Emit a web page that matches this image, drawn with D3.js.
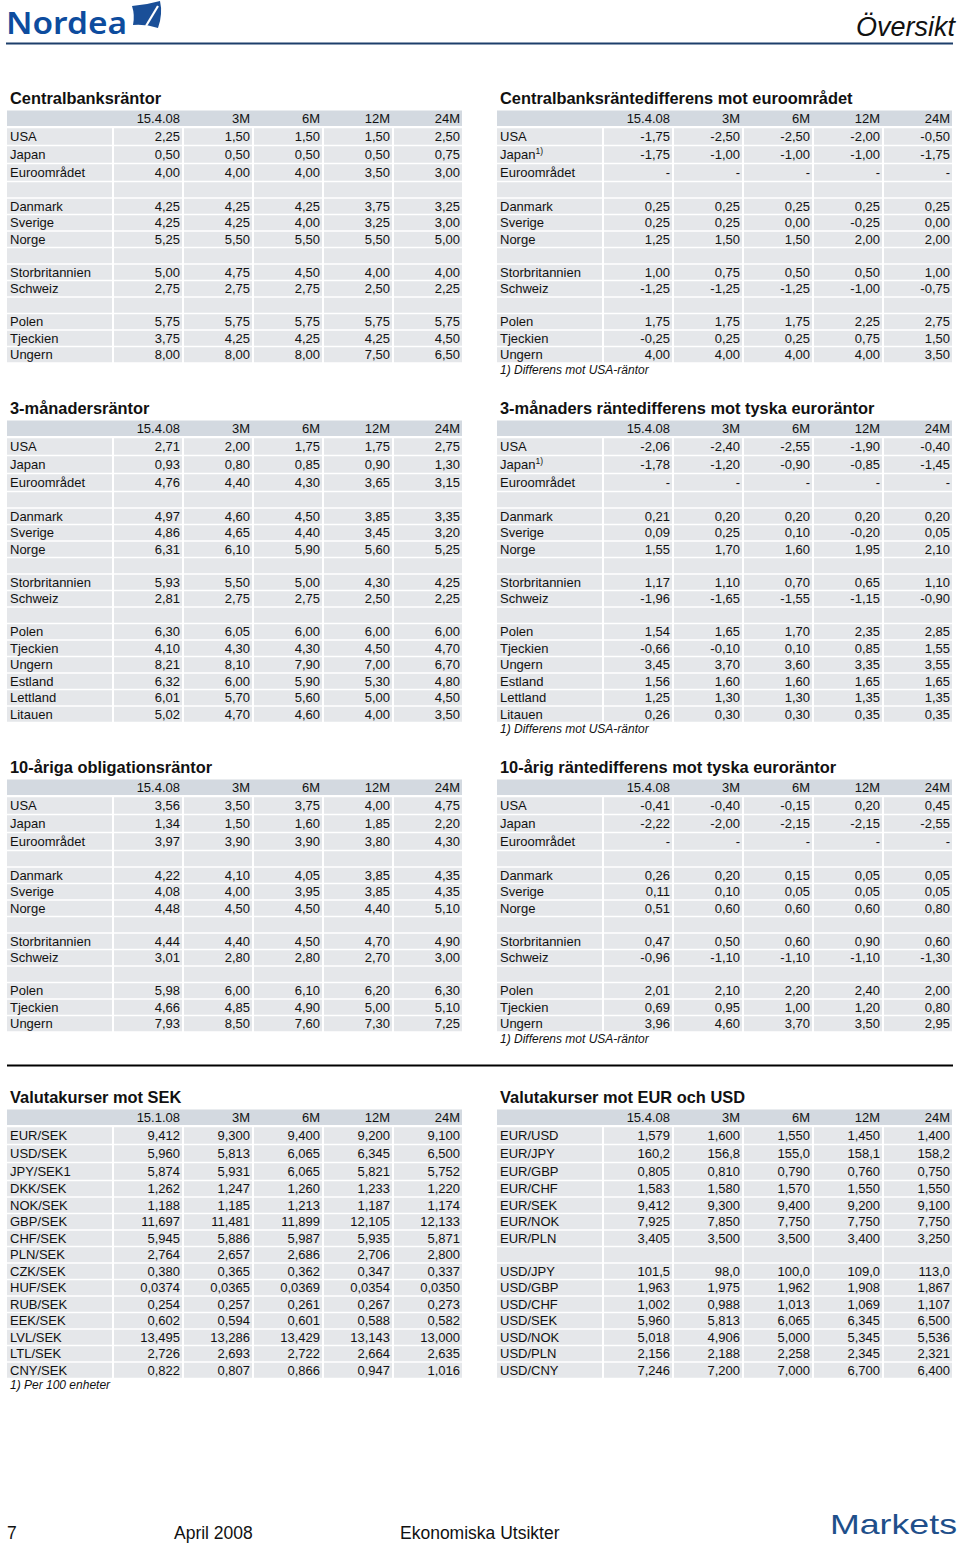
<!DOCTYPE html>
<html>
<head>
<meta charset="utf-8">
<script src="https://cdn.jsdelivr.net/npm/d3@7"></script>
<style>
  html, body { margin: 0; padding: 0; background: #ffffff; }
  svg { display: block; font-family: "Liberation Sans", Arial, Helvetica, sans-serif; }
</style>
</head>
<body>
<script>
// ---------------- DATA ----------------
const colsApr = ["15.4.08", "3M", "6M", "12M", "24M"];
const colsJan = ["15.1.08", "3M", "6M", "12M", "24M"];

// Centralbanksräntor
const cbLabels = ["USA", "Japan", "Euroområdet", null, "Danmark", "Sverige", "Norge", null, "Storbritannien", "Schweiz", null, "Polen", "Tjeckien", "Ungern"];
const cbValues = [
  [2.25, 1.50, 1.50, 1.50, 2.50],
  [0.50, 0.50, 0.50, 0.50, 0.75],
  [4.00, 4.00, 4.00, 3.50, 3.00],
  null,
  [4.25, 4.25, 4.25, 3.75, 3.25],
  [4.25, 4.25, 4.00, 3.25, 3.00],
  [5.25, 5.50, 5.50, 5.50, 5.00],
  null,
  [5.00, 4.75, 4.50, 4.00, 4.00],
  [2.75, 2.75, 2.75, 2.50, 2.25],
  null,
  [5.75, 5.75, 5.75, 5.75, 5.75],
  [3.75, 4.25, 4.25, 4.25, 4.50],
  [8.00, 8.00, 8.00, 7.50, 6.50]
];

// Centralbanksräntedifferens mot euroområdet
const cbDiffLabels = ["USA", "Japan|1)", "Euroområdet", null, "Danmark", "Sverige", "Norge", null, "Storbritannien", "Schweiz", null, "Polen", "Tjeckien", "Ungern"];
const cbDiffValues = [
  [-1.75, -2.50, -2.50, -2.00, -0.50],
  [-1.75, -1.00, -1.00, -1.00, -1.75],
  ["-", "-", "-", "-", "-"],
  null,
  [0.25, 0.25, 0.25, 0.25, 0.25],
  [0.25, 0.25, 0.00, -0.25, 0.00],
  [1.25, 1.50, 1.50, 2.00, 2.00],
  null,
  [1.00, 0.75, 0.50, 0.50, 1.00],
  [-1.25, -1.25, -1.25, -1.00, -0.75],
  null,
  [1.75, 1.75, 1.75, 2.25, 2.75],
  [-0.25, 0.25, 0.25, 0.75, 1.50],
  [4.00, 4.00, 4.00, 4.00, 3.50]
];

// 3-månadersräntor
const m3Labels = ["USA", "Japan", "Euroområdet", null, "Danmark", "Sverige", "Norge", null, "Storbritannien", "Schweiz", null, "Polen", "Tjeckien", "Ungern", "Estland", "Lettland", "Litauen"];
const m3Values = [
  [2.71, 2.00, 1.75, 1.75, 2.75],
  [0.93, 0.80, 0.85, 0.90, 1.30],
  [4.76, 4.40, 4.30, 3.65, 3.15],
  null,
  [4.97, 4.60, 4.50, 3.85, 3.35],
  [4.86, 4.65, 4.40, 3.45, 3.20],
  [6.31, 6.10, 5.90, 5.60, 5.25],
  null,
  [5.93, 5.50, 5.00, 4.30, 4.25],
  [2.81, 2.75, 2.75, 2.50, 2.25],
  null,
  [6.30, 6.05, 6.00, 6.00, 6.00],
  [4.10, 4.30, 4.30, 4.50, 4.70],
  [8.21, 8.10, 7.90, 7.00, 6.70],
  [6.32, 6.00, 5.90, 5.30, 4.80],
  [6.01, 5.70, 5.60, 5.00, 4.50],
  [5.02, 4.70, 4.60, 4.00, 3.50]
];

// 3-månaders räntedifferens mot tyska euroräntor
const m3DiffLabels = ["USA", "Japan|1)", "Euroområdet", null, "Danmark", "Sverige", "Norge", null, "Storbritannien", "Schweiz", null, "Polen", "Tjeckien", "Ungern", "Estland", "Lettland", "Litauen"];
const m3DiffValues = [
  [-2.06, -2.40, -2.55, -1.90, -0.40],
  [-1.78, -1.20, -0.90, -0.85, -1.45],
  ["-", "-", "-", "-", "-"],
  null,
  [0.21, 0.20, 0.20, 0.20, 0.20],
  [0.09, 0.25, 0.10, -0.20, 0.05],
  [1.55, 1.70, 1.60, 1.95, 2.10],
  null,
  [1.17, 1.10, 0.70, 0.65, 1.10],
  [-1.96, -1.65, -1.55, -1.15, -0.90],
  null,
  [1.54, 1.65, 1.70, 2.35, 2.85],
  [-0.66, -0.10, 0.10, 0.85, 1.55],
  [3.45, 3.70, 3.60, 3.35, 3.55],
  [1.56, 1.60, 1.60, 1.65, 1.65],
  [1.25, 1.30, 1.30, 1.35, 1.35],
  [0.26, 0.30, 0.30, 0.35, 0.35]
];

// 10-åriga obligationsräntor
const y10Labels = ["USA", "Japan", "Euroområdet", null, "Danmark", "Sverige", "Norge", null, "Storbritannien", "Schweiz", null, "Polen", "Tjeckien", "Ungern"];
const y10Values = [
  [3.56, 3.50, 3.75, 4.00, 4.75],
  [1.34, 1.50, 1.60, 1.85, 2.20],
  [3.97, 3.90, 3.90, 3.80, 4.30],
  null,
  [4.22, 4.10, 4.05, 3.85, 4.35],
  [4.08, 4.00, 3.95, 3.85, 4.35],
  [4.48, 4.50, 4.50, 4.40, 5.10],
  null,
  [4.44, 4.40, 4.50, 4.70, 4.90],
  [3.01, 2.80, 2.80, 2.70, 3.00],
  null,
  [5.98, 6.00, 6.10, 6.20, 6.30],
  [4.66, 4.85, 4.90, 5.00, 5.10],
  [7.93, 8.50, 7.60, 7.30, 7.25]
];

// 10-årig räntedifferens mot tyska euroräntor
const y10DiffLabels = ["USA", "Japan", "Euroområdet", null, "Danmark", "Sverige", "Norge", null, "Storbritannien", "Schweiz", null, "Polen", "Tjeckien", "Ungern"];
const y10DiffValues = [
  [-0.41, -0.40, -0.15, 0.20, 0.45],
  [-2.22, -2.00, -2.15, -2.15, -2.55],
  ["-", "-", "-", "-", "-"],
  null,
  [0.26, 0.20, 0.15, 0.05, 0.05],
  [0.11, 0.10, 0.05, 0.05, 0.05],
  [0.51, 0.60, 0.60, 0.60, 0.80],
  null,
  [0.47, 0.50, 0.60, 0.90, 0.60],
  [-0.96, -1.10, -1.10, -1.10, -1.30],
  null,
  [2.01, 2.10, 2.20, 2.40, 2.00],
  [0.69, 0.95, 1.00, 1.20, 0.80],
  [3.96, 4.60, 3.70, 3.50, 2.95]
];

// Valutakurser mot SEK
const sekLabels = ["EUR/SEK", "USD/SEK", "JPY/SEK1", "DKK/SEK", "NOK/SEK", "GBP/SEK", "CHF/SEK", "PLN/SEK", "CZK/SEK", "HUF/SEK", "RUB/SEK", "EEK/SEK", "LVL/SEK", "LTL/SEK", "CNY/SEK"];
const sekValues = [
  [9.412, 9.300, 9.400, 9.200, 9.100],
  [5.960, 5.813, 6.065, 6.345, 6.500],
  [5.874, 5.931, 6.065, 5.821, 5.752],
  [1.262, 1.247, 1.260, 1.233, 1.220],
  [1.188, 1.185, 1.213, 1.187, 1.174],
  [11.697, 11.481, 11.899, 12.105, 12.133],
  [5.945, 5.886, 5.987, 5.935, 5.871],
  [2.764, 2.657, 2.686, 2.706, 2.800],
  [0.380, 0.365, 0.362, 0.347, 0.337],
  [0.0374, 0.0365, 0.0369, 0.0354, 0.0350],
  [0.254, 0.257, 0.261, 0.267, 0.273],
  [0.602, 0.594, 0.601, 0.588, 0.582],
  [13.495, 13.286, 13.429, 13.143, 13.000],
  [2.726, 2.693, 2.722, 2.664, 2.635],
  [0.822, 0.807, 0.866, 0.947, 1.016]
];
const sekDecimals = [3, 3, 3, 3, 3, 3, 3, 3, 3, 4, 3, 3, 3, 3, 3];

// Valutakurser mot EUR och USD
const fxLabels = ["EUR/USD", "EUR/JPY", "EUR/GBP", "EUR/CHF", "EUR/SEK", "EUR/NOK", "EUR/PLN", null, "USD/JPY", "USD/GBP", "USD/CHF", "USD/SEK", "USD/NOK", "USD/PLN", "USD/CNY"];
const fxValues = [
  [1.579, 1.600, 1.550, 1.450, 1.400],
  [160.2, 156.8, 155.0, 158.1, 158.2],
  [0.805, 0.810, 0.790, 0.760, 0.750],
  [1.583, 1.580, 1.570, 1.550, 1.550],
  [9.412, 9.300, 9.400, 9.200, 9.100],
  [7.925, 7.850, 7.750, 7.750, 7.750],
  [3.405, 3.500, 3.500, 3.400, 3.250],
  null,
  [101.5, 98.0, 100.0, 109.0, 113.0],
  [1.963, 1.975, 1.962, 1.908, 1.867],
  [1.002, 0.988, 1.013, 1.069, 1.107],
  [5.960, 5.813, 6.065, 6.345, 6.500],
  [5.018, 4.906, 5.000, 5.345, 5.536],
  [2.156, 2.188, 2.258, 2.345, 2.321],
  [7.246, 7.200, 7.000, 6.700, 6.400]
];
const fxDecimals = [3, 1, 3, 3, 3, 3, 3, 0, 1, 3, 3, 3, 3, 3, 3];

const titles = [
  "Centralbanksräntor",
  "Centralbanksräntedifferens mot euroområdet",
  "3-månadersräntor",
  "3-månaders räntedifferens mot tyska euroräntor",
  "10-åriga obligationsräntor",
  "10-årig räntedifferens mot tyska euroräntor",
  "Valutakurser mot SEK",
  "Valutakurser mot EUR och USD"
];
const noteUSA = "1) Differens mot USA-räntor";
const notePer100 = "1) Per 100 enheter";

// ---------------- DRAWING ----------------
const W = 960, H = 1545;
const svg = d3.select("body").append("svg").attr("width", W).attr("height", H);

const loc = d3.formatLocale({ decimal: ",", thousands: "\u00a0", grouping: [3], currency: ["", ""], minus: "-" });
const fmtCache = {};
function fmt(v, dec) {
  if (typeof v === "string") return v;
  const k = "." + dec + "f";
  if (!fmtCache[k]) fmtCache[k] = loc.format(k);
  return fmtCache[k](v);
}

const HEADER_FILL = "#d3d9e0";
const CELL_FILL = "#e5e7ea";
const TXT = "#111111";
const FONT_SIZE = 13;

const tables = [
  { title: titles[0], cols: colsApr, labels: cbLabels, values: cbValues, dec: () => 2, x: 7, top: 110.5 },
  { title: titles[1], cols: colsApr, labels: cbDiffLabels, values: cbDiffValues, dec: () => 2, x: 497, top: 110.5, note: noteUSA },
  { title: titles[2], cols: colsApr, labels: m3Labels, values: m3Values, dec: () => 2, x: 7, top: 420.5 },
  { title: titles[3], cols: colsApr, labels: m3DiffLabels, values: m3DiffValues, dec: () => 2, x: 497, top: 420.5, note: noteUSA },
  { title: titles[4], cols: colsApr, labels: y10Labels, values: y10Values, dec: () => 2, x: 7, top: 779.5 },
  { title: titles[5], cols: colsApr, labels: y10DiffLabels, values: y10DiffValues, dec: () => 2, x: 497, top: 779.5, note: noteUSA },
  { title: titles[6], cols: colsJan, labels: sekLabels, values: sekValues, dec: i => sekDecimals[i], x: 7, top: 1109.5, note: notePer100 },
  { title: titles[7], cols: colsApr, labels: fxLabels, values: fxValues, dec: i => fxDecimals[i], x: 497, top: 1109.5 }
];

function rowHeight(i) { // i: 0 = header
  if (i === 0) return 17;
  if (i <= 3) return 18;
  return 16.5;
}

function drawTable(t) {
  const g = svg.append("g");
  const labelW = 106;
  const tableW = 456;
  const xCol = d3.scaleBand().domain(d3.range(t.cols.length)).range([t.x + labelW, t.x + tableW]).padding(0);

  const nRows = t.labels.length + 1;
  const ys = [];
  let y = t.top;
  for (let i = 0; i < nRows; i++) { ys.push([y, rowHeight(i)]); y += rowHeight(i); }
  const bottom = y;

  // title
  g.append("text").attr("x", t.x + 3).attr("y", t.top - 6.5)
    .attr("font-size", 16.4).attr("font-weight", "bold").attr("fill", TXT).text(t.title);

  // header
  const [hy, hh] = ys[0];
  g.append("rect").attr("x", t.x).attr("y", hy).attr("width", tableW - 1).attr("height", hh - 1.5).attr("fill", HEADER_FILL);
  g.selectAll("text.hd").data(t.cols).enter().append("text").attr("class", "hd")
    .attr("x", (d, j) => xCol(j) + xCol.bandwidth() - 3)
    .attr("y", hy + (hh - 1.5) / 2 + 4.6)
    .attr("text-anchor", "end").attr("font-size", FONT_SIZE).attr("fill", TXT).text(d => d);

  // body
  t.labels.forEach((lab, i) => {
    const [ry, rh] = ys[i + 1];
    const cy = ry + 0.75 + (rh - 1.5) / 2;
    g.append("rect").attr("x", t.x).attr("y", ry + 0.75).attr("width", labelW - 1).attr("height", rh - 1.5).attr("fill", CELL_FILL);
    t.cols.forEach((c, j) => {
      g.append("rect").attr("x", xCol(j) + 1).attr("y", ry + 0.75)
        .attr("width", xCol.bandwidth() - 2).attr("height", rh - 1.5).attr("fill", CELL_FILL);
    });
    if (lab) {
      const parts = lab.split("|");
      const tx = g.append("text").attr("x", t.x + 3).attr("y", cy + 4.6).attr("font-size", FONT_SIZE).attr("fill", TXT);
      tx.append("tspan").text(parts[0]);
      if (parts[1]) tx.append("tspan").attr("font-size", 8.5).attr("dy", -5).text(parts[1]);
    }
    const vals = t.values[i];
    if (vals) {
      g.selectAll(null).data(vals).enter().append("text")
        .attr("x", (d, j) => xCol(j) + xCol.bandwidth() - 3)
        .attr("y", cy + 4.6)
        .attr("text-anchor", "end").attr("font-size", FONT_SIZE).attr("fill", TXT)
        .text(d => fmt(d, t.dec(i)));
    }
  });

  if (t.note) {
    g.append("text").attr("x", t.x + 3).attr("y", bottom + 10.5)
      .attr("font-size", 12).attr("font-style", "italic").attr("fill", TXT).text(t.note);
  }
}

tables.forEach(drawTable);

// ---------------- PAGE DECOR ----------------
const logoBlue = "#0d4c9e";
svg.append("text").attr("x", 6).attr("y", 34).attr("font-family", "'Noto Sans', 'DejaVu Sans', sans-serif")
  .attr("font-size", 31).attr("font-weight", 600).attr("fill", logoBlue)
  .attr("textLength", 121).attr("lengthAdjust", "spacingAndGlyphs").text("Nordea");
svg.append("path")
  .attr("d", "M132,6 Q146,5 160,1 Q163,14 158,28 Q146,24 133,25 Q135,15 132,6 Z")
  .attr("fill", "#1a4f98");
svg.append("path")
  .attr("d", "M146,26 L158,6")
  .attr("stroke", "#ffffff").attr("stroke-width", 2.2).attr("fill", "none");

svg.append("text").attr("x", 955).attr("y", 36).attr("text-anchor", "end")
  .attr("font-size", 27).attr("font-style", "italic").attr("fill", TXT).text("Översikt");

svg.append("line").attr("x1", 6).attr("x2", 953).attr("y1", 43.5).attr("y2", 43.5)
  .attr("stroke", "#1d3f6b").attr("stroke-width", 2);

svg.append("line").attr("x1", 7).attr("x2", 953).attr("y1", 1065.5).attr("y2", 1065.5)
  .attr("stroke", "#000000").attr("stroke-width", 2);

svg.append("text").attr("x", 7).attr("y", 1539).attr("font-size", 17.5).attr("fill", TXT).text("7");
svg.append("text").attr("x", 174).attr("y", 1539).attr("font-size", 17.5).attr("fill", TXT).text("April 2008");
svg.append("text").attr("x", 400).attr("y", 1539).attr("font-size", 17.5).attr("fill", TXT).text("Ekonomiska Utsikter");
svg.append("text").attr("x", 830).attr("y", 1534).attr("font-size", 28).attr("fill", "#1f4f8a")
  .attr("textLength", 127).attr("lengthAdjust", "spacingAndGlyphs").text("Markets");
</script>
</body>
</html>
